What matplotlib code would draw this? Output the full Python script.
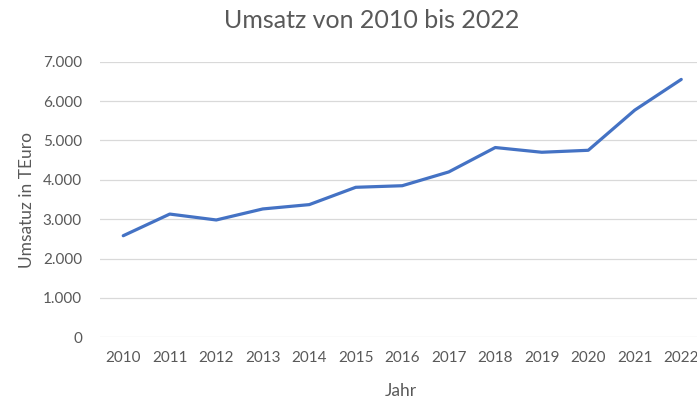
import matplotlib
matplotlib.use('agg')
import matplotlib.pyplot as plt
from matplotlib.ticker import FuncFormatter

years = ['2010', '2011', '2012', '2013', '2014', '2015', '2016',
         '2017', '2018', '2019', '2020', '2021', '2022']
umsatz = [2580, 3130, 2980, 3260, 3370, 3810, 3850,
          4200, 4820, 4700, 4750, 5770, 6550]
y_ticks = [0, 1000, 2000, 3000, 4000, 5000, 6000, 7000]

plt.rcParams['font.family'] = ['Lato', 'DejaVu Sans']
grey = '#595959'

fig = plt.figure(figsize=(6.97, 4.0), dpi=100)
ax = fig.add_axes([100 / 697, 62.7 / 400, 604.5 / 697, 275.6 / 400])

x = list(range(len(years)))
ax.plot(x, umsatz, color='#4472C4', linewidth=2.3, solid_capstyle='round',
        solid_joinstyle='round', zorder=3)

ax.set_xlim(-0.5, len(years) - 0.5)
ax.set_ylim(0, 7000)
ax.set_xticks(x)
ax.set_xticklabels(years)
ax.set_yticks(y_ticks)
# german thousands separator
ax.yaxis.set_major_formatter(FuncFormatter(lambda v, p: '{:,.0f}'.format(v).replace(',', '.')))

ax.grid(axis='y', color='#D9D9D9', linewidth=0.9, zorder=0)
for s in ax.spines.values():
    s.set_visible(False)
ax.tick_params(axis='both', length=0, labelsize=11, colors=grey)
ax.tick_params(axis='y', pad=13)
ax.tick_params(axis='x', pad=10)

ax.set_ylabel('Umsatuz in TEuro', fontsize=12.5, color=grey)
ax.yaxis.set_label_coords(-0.108, 0.5)
ax.set_xlabel('Jahr', fontsize=12.5, color=grey)
ax.xaxis.set_label_coords(0.498, -0.165)

fig.text(372 / 697, 1 - 20 / 400, 'Umsatz von 2010 bis 2022', fontsize=18,
         color=grey, ha='center', va='center')

fig.savefig('out.png', dpi=100)
plt.close()
